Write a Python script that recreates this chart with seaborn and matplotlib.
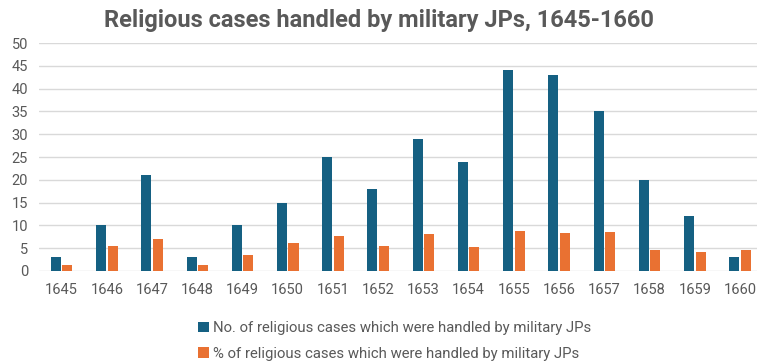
import pandas as pd
import seaborn as sns
import matplotlib.pyplot as plt

# Values
years = ["1645", "1646", "1647", "1648", "1649", "1650", "1651", "1652",
         "1653", "1654", "1655", "1656", "1657", "1658", "1659", "1660"]
num_cases = [3, 10, 21, 3, 10, 15, 25, 18, 29, 24, 44, 43, 35, 20, 12, 3]
pct_cases = [1.4, 5.5, 7.0, 1.25, 3.6, 6.1, 7.6, 5.5, 8.2, 5.2, 8.7, 8.3, 8.6, 4.6, 4.2, 4.6]

label_num = "No. of religious cases which were handled by military JPs"
label_pct = "% of religious cases which were handled by military JPs"

df = pd.DataFrame({"year": years * 2,
                   "value": num_cases + pct_cases,
                   "series": [label_num] * len(years) + [label_pct] * len(years)})

sns.set_style("white")
plt.rcParams["font.family"] = ["Roboto", "DejaVu Sans"]
text_grey = "#595959"

fig = plt.figure(figsize=(7.57, 3.62), dpi=100)
ax = fig.add_axes([39 / 757, 1 - 271 / 362, 723.6 / 757, 228 / 362])

sns.barplot(data=df, x="year", y="value", hue="series",
            palette=["#156082", "#E97132"], saturation=1,
            width=0.51, gap=0.13, linewidth=0, ax=ax, legend=True)

ax.set_ylim(0, 50)
ax.set_yticks(range(0, 51, 5))
ax.set_xlim(-0.5, 15.5)
ax.yaxis.grid(True, color="#d9d9d9", linewidth=1)
ax.set_axisbelow(True)
for s in ax.spines.values():
    s.set_visible(False)
ax.set_xlabel("")
ax.set_ylabel("")
ax.tick_params(axis="both", length=0, labelsize=10.5, labelcolor=text_grey)
ax.tick_params(axis="x", pad=9)
ax.tick_params(axis="y", pad=8)

handles, labels = ax.get_legend_handles_labels()
ax.get_legend().remove()
fig.legend(handles, labels, loc="upper left", bbox_to_anchor=(191 / 757, 1 - 314 / 362),
           frameon=False, fontsize=10.7, labelcolor=text_grey, handlelength=0.7,
           handleheight=0.7, handletextpad=0.3, labelspacing=0.75, borderpad=0)

fig.text(0.5, 1 - 20 / 362, "Religious cases handled by military JPs, 1645-1660",
         ha="center", va="center", fontsize=17, fontweight="bold", color=text_grey)

fig.savefig("out.png", dpi=100)
